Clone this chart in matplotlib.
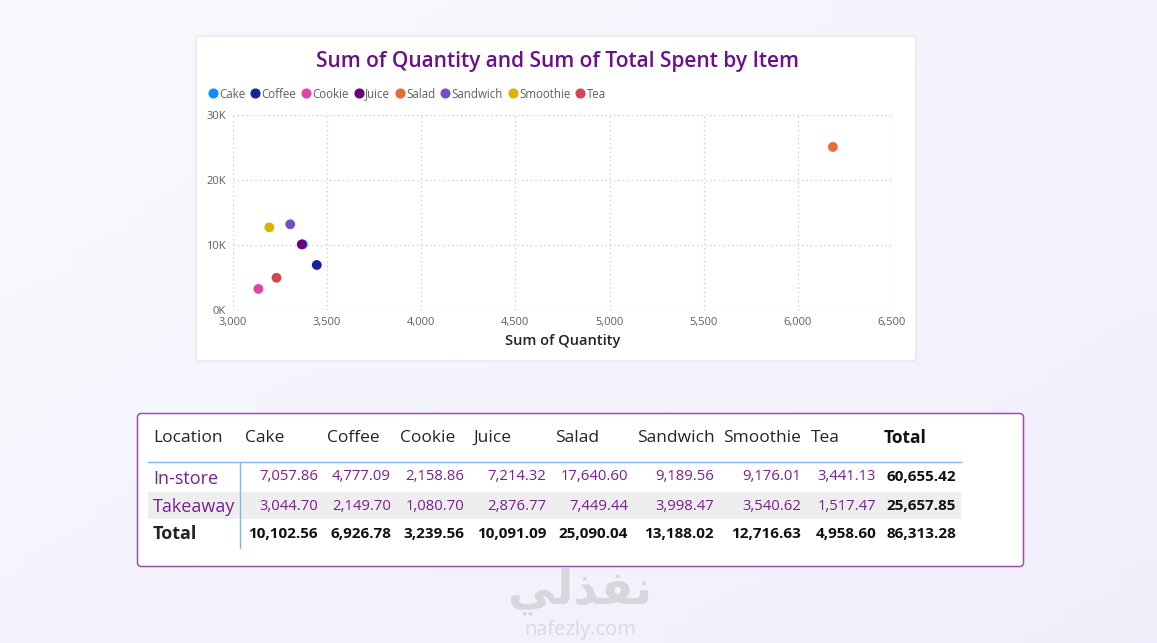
import numpy as np
import matplotlib
matplotlib.use("Agg")
import matplotlib.pyplot as plt
from matplotlib.patches import FancyBboxPatch, Rectangle
from matplotlib.lines import Line2D

plt.rcParams['font.family'] = ['Open Sans', 'DejaVu Sans']

# data
items = ["Cake", "Coffee", "Cookie", "Juice", "Salad", "Sandwich", "Smoothie", "Tea"]
colors = ["#118DFF", "#12239E", "#E044A7", "#6B007B", "#E66C37", "#744EC2", "#D9B300", "#D64550"]
quantity = [3371, 3445, 3135, 3365, 6186, 3304, 3193, 3231]
total_spent = [10102.56, 6926.78, 3239.56, 10091.09, 25090.04, 13188.02, 12716.63, 4958.60]

locations = ["In-store", "Takeaway"]
instore = [7057.86, 4777.09, 2158.86, 7214.32, 17640.60, 9189.56, 9176.01, 3441.13]
takeaway = [3044.70, 2149.70, 1080.70, 2876.77, 7449.44, 3998.47, 3540.62, 1517.47]
row_totals = [60655.42, 25657.85]
col_totals = [10102.56, 6926.78, 3239.56, 10091.09, 25090.04, 13188.02, 12716.63, 4958.60]
grand_total = 86313.28

xticks = [3000, 3500, 4000, 4500, 5000, 5500, 6000, 6500]
yticks = [0, 10000, 20000, 30000]
ytick_labels = ["0K", "10K", "20K", "30K"]

W, H = 1157, 643
fig = plt.figure(figsize=(W / 100, H / 100), dpi=100)

# background overlay in pixel coords
bg = fig.add_axes([0, 0, 1, 1])
bg.set_xlim(0, W)
bg.set_ylim(H, 0)
bg.axis("off")
gx = np.linspace(0, 1, 64)
gy = np.linspace(0, 1, 64)
GX, GY = np.meshgrid(gx, gy)
t = np.clip(0.55 * GX + 0.45 * GY, 0, 1)
c0 = np.array([0.975, 0.978, 0.995])
c1 = np.array([0.945, 0.935, 0.99])
img = c0[None, None, :] * (1 - t[..., None]) + c1[None, None, :] * t[..., None]
bg.imshow(img, extent=[0, W, H, 0], aspect="auto", zorder=0)

# scatter card
bg.add_patch(FancyBboxPatch((196, 36), 720, 325, boxstyle="round,pad=0,rounding_size=3",
                            fc="white", ec="#e6e6ea", lw=1, zorder=1))
bg.text(557, 61, "Sum of Quantity and Sum of Total Spent by Item", ha="center", va="center",
        fontsize=15, color="#6B0F8C", fontweight="semibold", zorder=3)

# table card
bg.add_patch(FancyBboxPatch((137.5, 413.5), 886, 153, boxstyle="round,pad=0,rounding_size=4",
                            fc="white", ec="#9B4FB0", lw=1.1, zorder=1))

# scatter axes
ax = fig.add_axes([233 / W, 1 - 310 / H, (892 - 233) / W, (310 - 115) / H])
ax.set_facecolor("none")
for i in range(len(items)):
    ax.scatter(quantity[i], total_spent[i], s=50, color=colors[i], label=items[i],
               zorder=3, edgecolors="none")
ax.set_xlim(3000, 6500)
ax.set_ylim(0, 30000)
ax.set_xticks(xticks)
ax.set_xticklabels([f"{v:,}" for v in xticks])
ax.set_yticks(yticks)
ax.set_yticklabels(ytick_labels)
ax.tick_params(length=0, labelsize=8, labelcolor="#605E5C", pad=5)
for s in ax.spines.values():
    s.set_visible(False)
ax.grid(True, color="#C8C8C8", linestyle=(0, (1, 2.5)), linewidth=0.9)
ax.set_axisbelow(True)
ax.set_xlabel("Sum of Quantity", fontsize=10.5, color="#252423", fontweight="semibold", labelpad=4)

handles = [Line2D([], [], marker="o", linestyle="none", markersize=6.3, color=c) for c in colors]
fig.legend(handles, items, loc="center left", bbox_to_anchor=(201 / W, 1 - 94 / H), ncol=8,
           frameon=False, fontsize=8.3, handletextpad=0.05, columnspacing=0.35,
           borderpad=0, labelcolor="#605E5C", handlelength=1.0)

# table
hdr_y, r1_y, r2_y, tot_y = 438, 477, 506, 534
col_right = [318, 391, 464, 546, 628, 714, 801, 876]
col_left = [245, 327, 400, 473, 555, 637, 723, 811]
total_right = 956

bg.text(153, hdr_y, "Location", ha="left", va="center", fontsize=12.5, color="#252423", zorder=3)
for i, name in enumerate(items):
    bg.text(col_left[i], hdr_y, name, ha="left", va="center", fontsize=12.5, color="#252423", zorder=3)
bg.text(884, hdr_y, "Total", ha="left", va="center", fontsize=12.5, color="#111111",
        fontweight="bold", zorder=3)

bg.add_patch(Rectangle((148, 492), 813, 27, fc="#EEEEEE", ec="none", zorder=2))
bg.plot([148, 961], [462, 462], color="#7FB6E3", lw=1, zorder=3)
bg.plot([239.5, 239.5], [462, 548], color="#7FB6E3", lw=1, zorder=3)

purple = "#7A1F8F"
rows = [instore, takeaway]
for r, (loc, vals, ry) in enumerate(zip(locations, rows, [r1_y, r2_y])):
    bg.text(153, ry + 1.5, loc, ha="left", va="center", fontsize=13, color=purple, zorder=3)
    for i, v in enumerate(vals):
        bg.text(col_right[i], ry, f"{v:,.2f}", ha="right", va="center", fontsize=10.7,
                color=purple, zorder=3)
    bg.text(total_right, ry, f"{row_totals[r]:,.2f}", ha="right", va="center", fontsize=11,
            color="#111111", fontweight="bold", zorder=3)

bg.text(153, tot_y, "Total", ha="left", va="center", fontsize=13, color="#252423",
        fontweight="bold", zorder=3)
for i, v in enumerate(col_totals):
    bg.text(col_right[i], tot_y, f"{v:,.2f}", ha="right", va="center", fontsize=11,
            color="#111111", fontweight="bold", zorder=3)
bg.text(total_right, tot_y, f"{grand_total:,.2f}", ha="right", va="center", fontsize=11,
        color="#111111", fontweight="bold", zorder=3)

# watermark
bg.text(580, 591, "\uFEF2\uFEDF\uFEAC\uFED4\uFEE7", ha="center", va="center", fontsize=34,
        color="#D6D6DC", fontweight="bold", family=["DejaVu Sans"], zorder=2)
bg.text(580, 630, "nafezly.com", ha="center", va="center", fontsize=14.5,
        color="#DADAE0", zorder=2)

fig.savefig("out.png", dpi=100)
